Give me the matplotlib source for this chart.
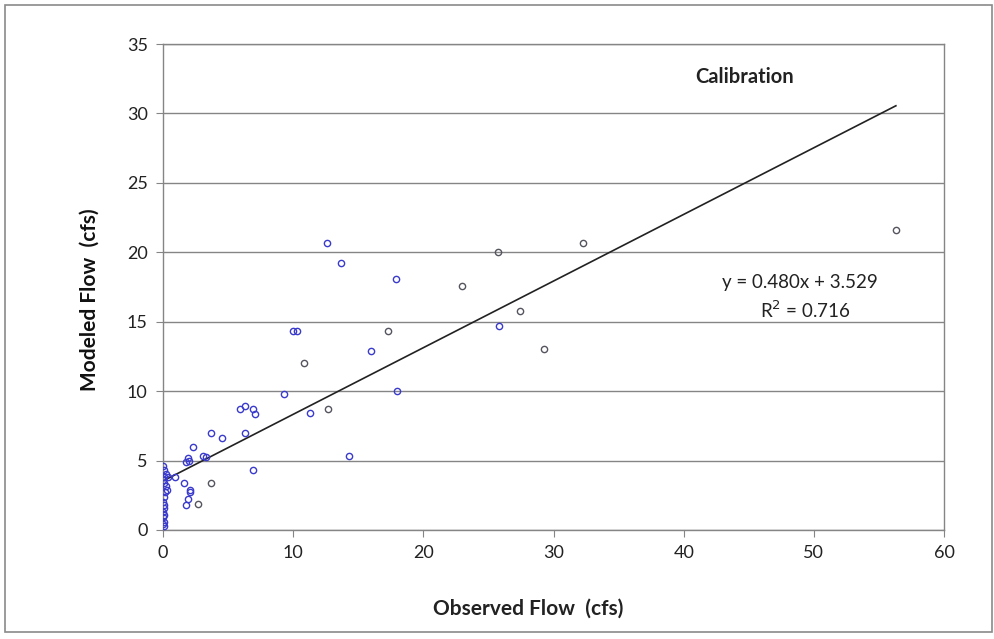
import numpy as np
import matplotlib
matplotlib.use('Agg')
import matplotlib.pyplot as plt
from matplotlib.patches import Rectangle

plt.rcParams['font.family'] = ['Lato', 'DejaVu Sans']

# observed vs modeled flow (cfs)
obs_blue = [0.0, 0.1, 0.2, 0.1, 0.0, 0.05, 0.2, 0.3, 0.15, 0.1, 0.0, 0.05, 0.1, 0.0, 0.05, 0.0, 0.1, 0.0, 0.05,
            0.4, 0.9, 1.6, 2.05, 2.1, 1.9, 1.8, 1.9, 2.0, 1.8, 2.3, 3.1, 3.3, 3.7, 4.5, 6.3,
            5.9, 6.3, 6.9, 7.1, 6.9, 9.3, 10.0, 10.3, 11.3, 12.6, 13.7, 14.3, 16.0, 17.9, 18.0, 25.8]
mod_blue = [4.6, 4.3, 4.0, 3.8, 3.6, 3.4, 3.2, 2.9, 2.7, 2.4, 2.0, 1.8, 1.6, 1.3, 1.1, 0.9, 0.6, 0.4, 0.3,
            3.8, 3.8, 3.4, 2.9, 2.75, 2.2, 1.8, 5.2, 5.0, 4.9, 6.0, 5.3, 5.25, 7.0, 6.65, 7.0,
            8.7, 8.9, 8.7, 8.35, 4.3, 9.8, 14.3, 14.3, 8.4, 20.7, 19.2, 5.3, 12.9, 18.1, 10.0, 14.7]
obs_gray = [3.7, 2.7, 10.8, 12.7, 17.3, 23.0, 25.7, 27.4, 29.3, 32.3, 56.3]
mod_gray = [3.35, 1.85, 12.0, 8.7, 14.3, 17.6, 20.0, 15.8, 13.0, 20.7, 21.6]

slope = 0.480
intercept = 3.529
r2 = 0.716

fig = plt.figure(figsize=(9.95, 6.39), dpi=100)
ax = fig.add_axes([0.1638, 0.1706, 0.785, 0.7605])

ax.set_xlim(0, 60)
ax.set_ylim(0, 35)
ax.set_xticks(np.arange(0, 61, 10))
ax.set_yticks(np.arange(0, 36, 5))
ax.yaxis.grid(True, color='#858585', linewidth=1.0)
ax.set_axisbelow(True)
for s in ax.spines.values():
    s.set_color('#858585')
    s.set_linewidth(1.0)
ax.tick_params(direction='out', length=5, color='#858585', labelsize=13, labelcolor='#222222', pad=6)

ax.plot(obs_blue, mod_blue, 'o', mfc='none', mec='#3a3acc', ms=4.5, mew=1.0, zorder=3)
ax.plot(obs_gray, mod_gray, 'o', mfc='none', mec='#555560', ms=4.5, mew=1.0, zorder=3)

all_obs = np.array(obs_blue + obs_gray)
xfit = np.array([all_obs.min(), all_obs.max()])
ax.plot(xfit, slope * xfit + intercept, color='#222222', linewidth=1.2, zorder=2)

ax.text(44.7, 32.6, 'Calibration', fontsize=14.5, fontweight='bold', color='#222222', ha='center', va='center')
ax.text(48.9, 17.8, 'y = %.3fx + %.3f' % (slope, intercept), fontsize=13.5, color='#222222', ha='center', va='center')
ax.text(49.3, 15.8, 'R$^2$ = %.3f' % r2, fontsize=13.5, color='#222222', ha='center', va='center')

ax.set_xlabel('Observed Flow  (cfs)', fontsize=15, fontweight='bold', color='#222222')
ax.set_ylabel('Modeled Flow  (cfs)', fontsize=15, fontweight='bold', color='#111111')
ax.xaxis.set_label_coords(0.467, -0.142)
ax.yaxis.set_label_coords(-0.081, 0.473)

fig.patches.append(Rectangle((5 / 995, 7 / 639), 987 / 995, 627 / 639, transform=fig.transFigure,
                             fill=False, edgecolor='#8a8a8a', linewidth=1.2))

fig.savefig('out.png', dpi=100)
